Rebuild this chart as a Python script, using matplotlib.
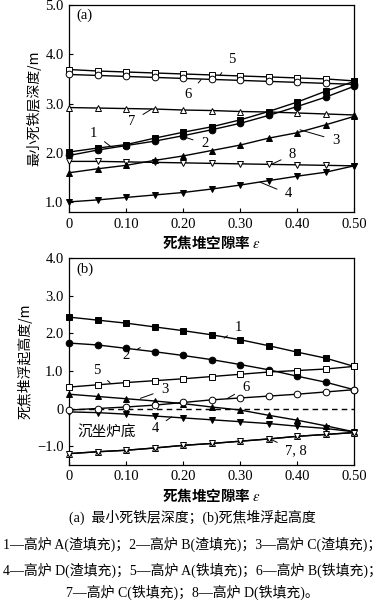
import matplotlib
matplotlib.use("Agg")
import matplotlib.pyplot as plt
import numpy as np

plt.rcParams['font.family'] = ['Liberation Serif', 'Noto Sans CJK SC', 'DejaVu Sans']
plt.rcParams['mathtext.fontset'] = 'stix'

eps = [0.00, 0.05, 0.10, 0.15, 0.20, 0.25, 0.30, 0.35, 0.40, 0.45, 0.50]

# Panel (a): minimum dead-iron layer depth (m)
a1 = [2.02, 2.10, 2.17, 2.30, 2.42, 2.53, 2.67, 2.84, 3.03, 3.25, 3.45]
a2 = [1.95, 2.06, 2.15, 2.24, 2.35, 2.47, 2.60, 2.76, 2.94, 3.13, 3.35]
a3 = [1.60, 1.68, 1.75, 1.85, 1.94, 2.05, 2.16, 2.30, 2.41, 2.57, 2.74]
a4 = [1.01, 1.05, 1.10, 1.15, 1.20, 1.27, 1.35, 1.44, 1.53, 1.61, 1.74]
a5 = [3.69, 3.66, 3.64, 3.62, 3.60, 3.58, 3.56, 3.54, 3.52, 3.50, 3.46]
a6 = [3.59, 3.57, 3.55, 3.53, 3.51, 3.49, 3.47, 3.45, 3.43, 3.41, 3.39]
a7 = [2.92, 2.91, 2.90, 2.89, 2.87, 2.86, 2.84, 2.83, 2.81, 2.79, 2.77]
a8 = [1.83, 1.83, 1.82, 1.81, 1.80, 1.79, 1.78, 1.77, 1.76, 1.75, 1.74]

# Panel (b): dead-man floating height (m)
b1 = [2.43, 2.35, 2.27, 2.17, 2.07, 1.96, 1.83, 1.67, 1.50, 1.34, 1.12]
b2 = [1.74, 1.69, 1.60, 1.51, 1.41, 1.30, 1.17, 1.03, 0.86, 0.70, 0.50]
b3 = [0.38, 0.32, 0.26, 0.20, 0.13, 0.04, -0.04, -0.18, -0.31, -0.46, -0.62]
b4 = [-0.09, -0.11, -0.15, -0.20, -0.25, -0.30, -0.35, -0.40, -0.47, -0.53, -0.62]
b5 = [0.57, 0.63, 0.69, 0.74, 0.79, 0.85, 0.91, 0.97, 1.01, 1.05, 1.12]
b6 = [-0.04, 0.00, 0.04, 0.09, 0.16, 0.23, 0.28, 0.33, 0.38, 0.44, 0.50]
b78 = [-1.20, -1.15, -1.11, -1.05, -0.98, -0.93, -0.87, -0.81, -0.74, -0.69, -0.64]

xticks = [0, 0.10, 0.20, 0.30, 0.40, 0.50]
xticklabels = ['0', '0.10', '0.20', '0.30', '0.40', '0.50']
a_yticks = [1.0, 2.0, 3.0, 4.0, 5.0]
a_yticklabels = ['1.0', '2.0', '3.0', '4.0', '5.0']
b_yticks = [-1.0, 0, 1.0, 2.0, 3.0, 4.0]
b_yticklabels = ['\u22121.0', '0', '1.0', '2.0', '3.0', '4.0']

fig = plt.figure(figsize=(3.84, 6.03), dpi=100)
axa = fig.add_axes([0.180, 0.648, 0.742, 0.344])
axb = fig.add_axes([0.180, 0.229, 0.742, 0.343])

ms = 4.8
lw = 1.0
def plot(ax, y, marker, filled):
    ax.plot(eps, y, color='black', lw=lw, marker=marker, ms=ms,
            mfc='black' if filled else 'white', mec='black', mew=0.7, clip_on=False, zorder=3)

plot(axa, a5, 's', False)
plot(axa, a6, 'o', False)
plot(axa, a7, '^', False)
plot(axa, a8, 'v', False)
plot(axa, a1, 's', True)
plot(axa, a2, 'o', True)
plot(axa, a3, '^', True)
plot(axa, a4, 'v', True)

axb.axhline(0, color='black', lw=1.0, ls=(0, (4, 3)), zorder=1)
plot(axb, b1, 's', True)
plot(axb, b2, 'o', True)
plot(axb, b3, '^', True)
plot(axb, b4, 'v', True)
plot(axb, b5, 's', False)
plot(axb, b6, 'o', False)
plot(axb, b78, '^', False)
plot(axb, b78, 'v', False)

for ax in (axa, axb):
    ax.set_xlim(0, 0.50)
    ax.set_xticks(xticks)
    ax.set_xticklabels(xticklabels)
    ax.tick_params(direction='in', length=3, width=0.8, labelsize=10.5, pad=4)
    for s in ax.spines.values():
        s.set_linewidth(0.9)
    ax.set_xlabel('死焦堆空隙率 $\\varepsilon$', fontsize=10.5, fontweight='bold',
                  family=['Noto Sans CJK SC', 'DejaVu Sans'], labelpad=2)

axa.set_ylim(0.8, 5.0)
axa.set_yticks(a_yticks)
axa.set_yticklabels(a_yticklabels)
axa.set_ylabel('最小死铁层深度/m', fontsize=10, family=['Noto Sans CJK SC', 'DejaVu Sans'], labelpad=3)

axb.set_ylim(-1.5, 4.0)
axb.set_yticks(b_yticks)
axb.set_yticklabels(b_yticklabels)
axb.set_ylabel('死焦堆浮起高度/m', fontsize=10, family=['Noto Sans CJK SC', 'DejaVu Sans'], labelpad=3)

def ann(ax, text, xy_text, xy_pt, ha='center'):
    ax.annotate(text, xy=xy_pt, xytext=xy_text, fontsize=10.5, ha=ha, va='center',
                arrowprops=dict(arrowstyle='-', color='black', lw=0.7, shrinkA=4, shrinkB=0))

axa.text(0.012, 4.78, '(a)', fontsize=10.5, va='center')
ann(axa, '5', (0.285, 3.90), (0.265, 3.58))
ann(axa, '6', (0.209, 3.18), (0.232, 3.49))
ann(axa, '7', (0.11, 2.64), (0.145, 2.89))
ann(axa, '1', (0.043, 2.40), (0.072, 2.14))
ann(axa, '2', (0.238, 2.19), (0.195, 2.35))
ann(axa, '3', (0.468, 2.26), (0.405, 2.47))
ann(axa, '8', (0.392, 1.97), (0.355, 1.77))
ann(axa, '4', (0.385, 1.17), (0.335, 1.41))

axb.text(0.012, 3.69, '(b)', fontsize=10.5, va='center')
ann(axb, '1', (0.297, 2.15), (0.272, 1.87))
ann(axb, '2', (0.10, 1.41), (0.125, 1.62))
ann(axb, '5', (0.049, 1.01), (0.072, 0.68))
ann(axb, '3', (0.168, 0.50), (0.125, 0.27))
ann(axb, '6', (0.31, 0.55), (0.277, 0.26))
ann(axb, '4', (0.151, -0.53), (0.18, -0.22))
ann(axb, '7, 8', (0.379, -1.13), (0.355, -0.83), ha='left')
axb.text(0.015, -0.65, '沉坐炉底', fontsize=10.5, va='center',
         family=['Noto Sans CJK SC', 'DejaVu Sans'])

cap_font = ['Liberation Serif', 'Noto Sans CJK SC']
cfs = 10
fig.text(0.5, 1 - 517 / 603, '(a)  最小死铁层深度；(b)死焦堆浮起高度', ha='center', va='center',
         fontsize=cfs, family=cap_font)
fig.text(0.5, 1 - 544 / 603, '1—高炉 A(渣填充)；2—高炉 B(渣填充)；3—高炉 C(渣填充)；',
         ha='center', va='center', fontsize=cfs, family=cap_font)
fig.text(0.5, 1 - 570 / 603, '4—高炉 D(渣填充)；5—高炉 A(铁填充)；6—高炉 B(铁填充)；',
         ha='center', va='center', fontsize=cfs, family=cap_font)
fig.text(0.5, 1 - 592 / 603, '7—高炉 C(铁填充)；8—高炉 D(铁填充)。',
         ha='center', va='center', fontsize=cfs, family=cap_font)

fig.savefig('out.png', dpi=100)
